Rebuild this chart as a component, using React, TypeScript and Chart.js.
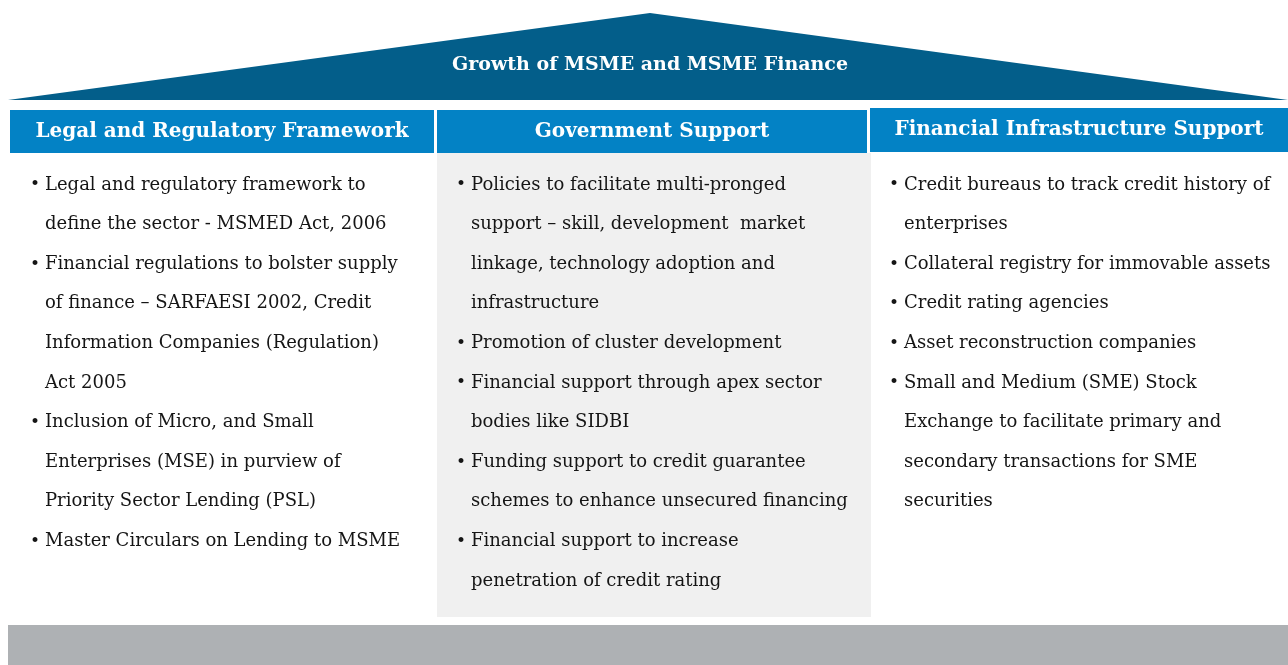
import React, { useEffect, useRef } from "react";
import { Chart, registerables } from "chart.js";

Chart.register(...registerables);

const W = 1288;
const H = 665;

// Roof (triangle)
const roofX = [8, 650, 1288];
const roofY = [100, 13, 100];
const roofTitle = "Growth of MSME and MSME Finance";
const roofTitleY = 65;

// Header boxes
const headerLabels = [
  "Legal and Regulatory Framework",
  "Government Support",
  "Financial Infrastructure Support",
];
const headerLeft = [10, 437, 870];
const headerRight = [434, 867, 1288];
const headerTop = [110, 110, 108];
const headerBottom = [153, 153, 152];

// Shaded middle column
const panelLeft = 437;
const panelRight = 871;
const panelTop = 153;
const panelBottom = 617;

// Floor bar
const floorLeft = 8;
const floorRight = 1288;
const floorTop = 625;
const floorBottom = 665;

// Bullet text (pre-wrapped lines)
const col1Items = [
  ["Legal and regulatory framework to", "define the sector - MSMED Act, 2006"],
  [
    "Financial regulations to bolster supply",
    "of finance – SARFAESI 2002, Credit",
    "Information Companies (Regulation)",
    "Act 2005",
  ],
  [
    "Inclusion of Micro, and Small",
    "Enterprises (MSE) in purview of",
    "Priority Sector Lending (PSL)",
  ],
  ["Master Circulars on Lending to MSME"],
];
const col2Items = [
  [
    "Policies to facilitate multi-pronged",
    "support – skill, development  market",
    "linkage, technology adoption and",
    "infrastructure",
  ],
  ["Promotion of cluster development"],
  ["Financial support through apex sector", "bodies like SIDBI"],
  ["Funding support to credit guarantee", "schemes to enhance unsecured financing"],
  ["Financial support to increase", "penetration of credit rating"],
];
const col3Items = [
  ["Credit bureaus to track credit history of", "enterprises"],
  ["Collateral registry for immovable assets"],
  ["Credit rating agencies"],
  ["Asset reconstruction companies"],
  [
    "Small and Medium (SME) Stock",
    "Exchange to facilitate primary and",
    "secondary transactions for SME",
    "securities",
  ],
];
const colTextX = [45, 471, 904];
const bulletOffset = 15;
const firstLineY = 185;
const lineStep = 39.6;

const ROOF = "#035E8A";
const HEAD = "#0382C5";
const PANEL = "#F0F0F0";
const FLOOR = "#AEB1B4";
const TEXT = "#151515";

function rect(x0: number, x1: number, top: number, bottom: number, color: string) {
  return {
    type: "line" as const,
    data: [
      { x: x0, y: top },
      { x: x1, y: top },
    ],
    borderWidth: 0,
    borderColor: color,
    backgroundColor: color,
    pointRadius: 0,
    tension: 0,
    fill: { value: bottom },
  };
}

const textPlugin = {
  id: "diagramText",
  afterDatasetsDraw(chart: any) {
    const ctx = chart.ctx as CanvasRenderingContext2D;
    const xs = chart.scales.x;
    const ys = chart.scales.y;
    ctx.save();
    ctx.textBaseline = "middle";
    // roof title
    ctx.fillStyle = "#FFFFFF";
    ctx.textAlign = "center";
    ctx.font = "bold 19px 'DejaVu Serif'";
    ctx.fillText(roofTitle, xs.getPixelForValue(roofX[1]), ys.getPixelForValue(roofTitleY));
    // headers
    ctx.font = "bold 20px 'DejaVu Serif'";
    headerLabels.forEach((lab, i) => {
      const cx = xs.getPixelForValue((headerLeft[i] + headerRight[i]) / 2);
      const cy = ys.getPixelForValue((headerTop[i] + headerBottom[i]) / 2);
      ctx.fillText(lab, cx, cy);
    });
    // bullet columns
    ctx.fillStyle = TEXT;
    ctx.textAlign = "left";
    [col1Items, col2Items, col3Items].forEach((items, ci) => {
      let line = 0;
      items.forEach((lines) => {
        lines.forEach((t, li) => {
          const y = ys.getPixelForValue(firstLineY + line * lineStep);
          if (li === 0) {
            ctx.font = "17px 'DejaVu Serif'";
            ctx.fillText("•", xs.getPixelForValue(colTextX[ci] - bulletOffset), y);
          }
          ctx.font = "18px 'DejaVu Serif'";
          ctx.fillText(t, xs.getPixelForValue(colTextX[ci]), y);
          line++;
        });
      });
    });
    ctx.restore();
  },
};

export default function App() {
  const ref = useRef<HTMLCanvasElement>(null);
  useEffect(() => {
    if (!ref.current) return;
    const datasets: any[] = [
      {
        type: "line",
        data: roofX.map((x, i) => ({ x, y: roofY[i] })),
        borderWidth: 0,
        borderColor: ROOF,
        backgroundColor: ROOF,
        pointRadius: 0,
        tension: 0,
        fill: { value: roofY[0] },
      },
      rect(panelLeft, panelRight, panelTop, panelBottom, PANEL),
      ...headerLabels.map((_, i) =>
        rect(headerLeft[i], headerRight[i], headerTop[i], headerBottom[i], HEAD)
      ),
      rect(floorLeft, floorRight, floorTop, floorBottom, FLOOR),
    ];
    const chart = new Chart(ref.current, {
      type: "scatter",
      data: { datasets },
      options: {
        animation: false,
        responsive: false,
        events: [],
        layout: { padding: 0 },
        plugins: { legend: { display: false }, tooltip: { enabled: false } },
        scales: {
          x: { type: "linear", min: 0, max: W, display: false },
          y: { type: "linear", min: 0, max: H, reverse: true, display: false },
        },
      },
      plugins: [textPlugin],
    });
    return () => chart.destroy();
  }, []);
  return (
    <div style={{ position: "fixed", left: 0, top: 0, width: W, height: H, background: "#fff" }}>
      <canvas ref={ref} width={W} height={H} style={{ width: W, height: H, display: "block" }} />
    </div>
  );
}
